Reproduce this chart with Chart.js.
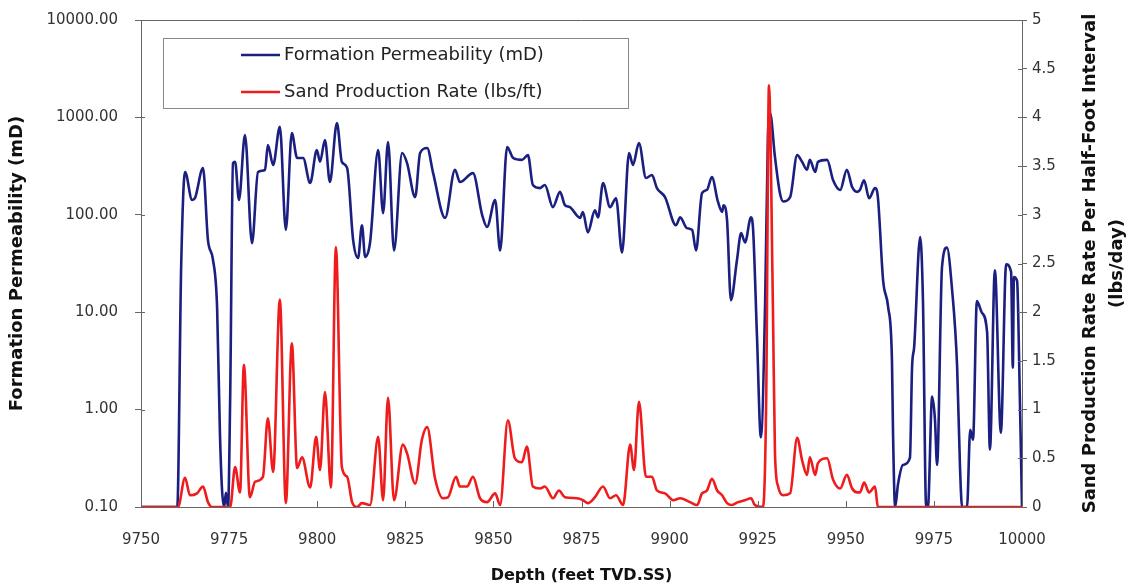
<!DOCTYPE html>
<html>
<head>
<meta charset="utf-8">
<script src="https://cdn.jsdelivr.net/npm/chart.js@4.4.1/dist/chart.umd.min.js"></script>
<style>
html, body { margin: 0; padding: 0; background: #fff; }
#wrap { position: relative; width: 1129px; height: 587px; }
</style>
</head>
<body>
<div id="wrap"><canvas id="grafic"></canvas></div>
<script>
const permDepth = [9750, 9760.3, 9761.4, 9762.5, 9764.5, 9765.3, 9767.6, 9769.0, 9770.4, 9771.6,
  9772.4, 9773.0, 9773.6, 9774.1, 9774.7, 9775.3, 9776.1, 9776.7, 9777.8, 9779.5,
  9781.5, 9783.2, 9785.2, 9786.0, 9787.5, 9789.4, 9791.1, 9792.8, 9794.3, 9796.0,
  9798.0, 9799.9, 9800.8, 9802.2, 9803.6, 9805.6, 9807.0, 9808.5, 9810.2, 9811.6,
  9812.7, 9813.6, 9815.0, 9817.3, 9818.7, 9820.1, 9821.8, 9824.1, 9825.5, 9827.8,
  9829.2, 9831.2, 9832.9, 9836.3, 9839.1, 9840.5, 9844.2, 9846.8, 9848.2, 9850.5,
  9851.9, 9853.9, 9855.6, 9858.1, 9859.8, 9861.2, 9863.2, 9864.6, 9866.9, 9868.9,
  9870.3, 9871.7, 9874.6, 9875.4, 9876.8, 9878.8, 9879.7, 9881.1, 9883.1, 9884.8,
  9886.5, 9888.5, 9889.6, 9891.3, 9893.3, 9895.0, 9896.4, 9898.7, 9901.8, 9903.0,
  9904.9, 9906.4, 9907.5, 9909.2, 9910.6, 9912.0, 9913.7, 9914.9, 9915.3, 9916.3,
  9917.4, 9919.1, 9920.3, 9921.4, 9923.1, 9923.7, 9924.8, 9925.9, 9927.1, 9927.9,
  9928.5, 9929.9, 9931.3, 9932.2, 9934.2, 9936.2, 9937.6, 9939.0, 9939.8, 9941.3,
  9942.1, 9944.7, 9946.4, 9948.4, 9950.3, 9951.8, 9953.2, 9954.0, 9955.2, 9956.6,
  9958.3, 9959.1, 9960.6, 9962.0, 9963.1, 9963.4, 9964.0, 9964.8, 9966.2, 9968.2,
  9968.8, 9969.4, 9971.1, 9971.9, 9972.8, 9973.3, 9974.5, 9975.3, 9975.9, 9977.3,
  9978.7, 9980.1, 9981.6, 9982.4, 9983.0, 9984.4, 9985.3, 9986.1, 9987.2, 9988.6,
  9990.1, 9990.9, 9992.3, 9994.0, 9995.5, 9996.9, 9997.4, 9997.7, 9998.6, 9999.4, 10000];
const permValue = [0.1, 0.1, 30, 275, 142, 148, 302, 55, 35, 11,
  0.57, 0.15, 0.1, 0.14, 0.1, 1.3, 340, 350, 142, 660,
  51, 275, 290, 520, 325, 800, 70, 690, 383, 383,
  212, 463, 350, 586, 217, 876, 350, 302, 55, 36,
  78, 37, 52, 463, 104, 560, 43, 431, 340, 152,
  431, 485, 268, 93, 290, 217, 268, 100, 75, 142,
  43, 497, 383, 366, 410, 202, 188, 202, 120, 172,
  126, 120, 93, 107, 66, 111, 94, 212, 120, 148,
  41, 431, 325, 546, 239, 256, 188, 152, 78, 94,
  73, 70, 43, 167, 180, 244, 137, 107, 125, 88,
  13.3, 34, 65, 52, 94, 70, 5.6, 0.52, 12, 630,
  1110, 392, 167, 137, 152, 410, 350, 290, 366, 275,
  350, 366, 226, 180, 290, 193, 172, 180, 226, 148,
  188, 152, 21, 11.4, 3.2, 0.58, 0.1, 0.17, 0.27, 0.32,
  2.7, 4.4, 59, 13, 0.1, 0.1, 1.36, 0.79, 0.27, 29,
  46, 18, 2.7, 0.26, 0.1, 0.1, 0.62, 0.49, 13, 9.9,
  6.2, 0.39, 27, 0.58, 31, 26, 2.7, 23, 21, 1.27, 0.1];

// sand production rate per half-foot interval (lbs/day)
const sandDepth = [9750, 9760.5, 9762.5, 9763.9, 9765.9, 9767.6, 9769.0, 9770.1, 9775.3, 9776.7,
  9778.1, 9779.2, 9780.9, 9782.4, 9784.6, 9786.0, 9787.5, 9789.4, 9791.1, 9792.8,
  9794.3, 9795.7, 9798.0, 9799.7, 9800.8, 9802.2, 9803.9, 9805.3, 9807.0, 9808.5,
  9809.9, 9811.3, 9812.7, 9815.0, 9817.3, 9818.7, 9820.1, 9821.8, 9824.3, 9825.5,
  9827.8, 9829.7, 9831.2, 9833.4, 9835.7, 9837.1, 9839.4, 9840.5, 9842.5, 9844.2,
  9846.2, 9848.2, 9850.5, 9851.9, 9854.1, 9856.1, 9858.1, 9859.5, 9861.2, 9863.2,
  9864.6, 9866.9, 9868.6, 9870.3, 9873.7, 9875.4, 9876.8, 9878.8, 9881.1, 9883.1,
  9884.8, 9886.8, 9888.8, 9889.9, 9891.3, 9893.3, 9895.0, 9896.4, 9898.7, 9901.0,
  9903.0, 9905.8, 9907.8, 9909.2, 9910.6, 9912.0, 9913.5, 9914.9, 9916.3, 9917.7,
  9919.4, 9921.4, 9923.1, 9924.2, 9926.5, 9927.4, 9928.2, 9929.3, 9929.9, 9930.8,
  9932.2, 9934.2, 9936.2, 9937.6, 9939.0, 9939.8, 9941.3, 9942.1, 9944.7, 9946.4,
  9948.4, 9950.3, 9951.8, 9953.2, 9954.0, 9955.2, 9956.6, 9958.3, 9959.1, 10000];
const sandValue = [0, 0, 0.30, 0.12, 0.14, 0.21, 0.05, 0, 0, 0.41,
  0.15, 1.46, 0.10, 0.26, 0.31, 0.91, 0.36, 2.13, 0.04, 1.68,
  0.40, 0.51, 0.20, 0.72, 0.38, 1.18, 0.20, 2.67, 0.41, 0.31,
  0.05, 0, 0.04, 0.02, 0.72, 0.07, 1.12, 0.07, 0.64, 0.55,
  0.24, 0.69, 0.82, 0.30, 0.09, 0.10, 0.31, 0.21, 0.21, 0.31,
  0.09, 0.05, 0.14, 0.02, 0.89, 0.50, 0.46, 0.62, 0.21, 0.19,
  0.21, 0.09, 0.17, 0.10, 0.09, 0.07, 0.04, 0.10, 0.21, 0.09,
  0.12, 0.02, 0.64, 0.38, 1.08, 0.31, 0.31, 0.17, 0.14, 0.07,
  0.09, 0.05, 0.02, 0.14, 0.17, 0.29, 0.17, 0.12, 0.04, 0.02,
  0.05, 0.07, 0.09, 0.02, 0, 1.07, 4.33, 2.10, 0.55, 0.21,
  0.12, 0.14, 0.71, 0.48, 0.33, 0.51, 0.33, 0.45, 0.50, 0.28,
  0.19, 0.33, 0.19, 0.15, 0.15, 0.25, 0.15, 0.21, 0, 0];

const depthTicks = [9750, 9775, 9800, 9825, 9850, 9875, 9900, 9925, 9950, 9975, 10000];
const permTicks = [0.1, 1, 10, 100, 1000, 10000];
const sandTicks = [0, 0.5, 1, 1.5, 2, 2.5, 3, 3.5, 4, 4.5, 5];

const seriesNames = ['Formation Permeability (mD)', 'Sand Production Rate (lbs/ft)'];
const rightTitle = ['Sand Production Rate Rate Per Half-Foot Interval', '(lbs/day)'];

const FONT = '"DejaVu Sans", Verdana, sans-serif';
const BLUE = '#1a1f80';
const RED = '#ee1c1c';

// ticks that cross the axis line, plus the top border
const marcPlugin = {
  id: 'marc',
  afterDraw(chart) {
    const { ctx, chartArea: a, scales } = chart;
    ctx.save();
    ctx.strokeStyle = '#666';
    ctx.lineWidth = 1;
    ctx.beginPath();
    ctx.moveTo(a.left, a.top + 0.5);
    ctx.lineTo(a.right, a.top + 0.5);
    scales.x.ticks.forEach(t => {
      const px = Math.round(scales.x.getPixelForValue(t.value)) + 0.5;
      ctx.moveTo(px, a.bottom);
      ctx.lineTo(px, a.bottom - 6);
    });
    scales.y.ticks.forEach(t => {
      const py = Math.round(scales.y.getPixelForValue(t.value)) + 0.5;
      ctx.moveTo(a.left, py);
      ctx.lineTo(a.left + 4, py);
    });
    scales.y2.ticks.forEach(t => {
      const py = Math.round(scales.y2.getPixelForValue(t.value)) + 0.5;
      ctx.moveTo(a.right, py);
      ctx.lineTo(a.right - 4, py);
    });
    ctx.stroke();
    ctx.restore();
  }
};

// legend box inside the plot, and the right axis title read bottom-up
const llegendaPlugin = {
  id: 'llegenda',
  afterDraw(chart) {
    const { ctx, chartArea: a } = chart;
    const colors = [BLUE, RED];
    const bx = a.left + 22, by = a.top + 18, bw = 465, bh = 70;
    ctx.save();
    ctx.fillStyle = '#fff';
    ctx.fillRect(bx, by, bw, bh);
    ctx.strokeStyle = '#888';
    ctx.lineWidth = 1;
    ctx.strokeRect(bx + 0.5, by + 0.5, bw, bh);
    ctx.font = '18px ' + FONT;
    ctx.textBaseline = 'middle';
    seriesNames.forEach((name, i) => {
      const ly = by + 17 + i * 37;
      ctx.strokeStyle = colors[i];
      ctx.lineWidth = 2.5;
      ctx.beginPath();
      ctx.moveTo(bx + 78, ly);
      ctx.lineTo(bx + 117, ly);
      ctx.stroke();
      ctx.fillStyle = '#222';
      ctx.fillText(name, bx + 121, ly);
    });

    ctx.font = 'bold 18px ' + FONT;
    ctx.fillStyle = '#111';
    ctx.textAlign = 'center';
    ctx.textBaseline = 'middle';
    const cy = (a.top + a.bottom) / 2;
    rightTitle.forEach((txt, i) => {
      ctx.save();
      ctx.translate(a.right + 68 + i * 27, cy);
      ctx.rotate(-Math.PI / 2);
      ctx.fillText(txt, 0, 0);
      ctx.restore();
    });
    ctx.restore();
  }
};

// fixed box sizes so the plot area sits where the original one does
const fixVertical = w => s => {
  s.width = w;
  s.paddingTop = 0;
  s.paddingBottom = 0;
};

const ctx = document.getElementById('grafic').getContext('2d');

new Chart(ctx, {
  type: 'line',
  data: {
    datasets: [{
      label: seriesNames[0],
      data: permDepth.map((d, i) => ({ x: d, y: permValue[i] })),
      yAxisID: 'y',
      borderColor: BLUE,
      borderWidth: 2.6,
      pointRadius: 0,
      cubicInterpolationMode: 'monotone',
      order: 1
    }, {
      label: seriesNames[1],
      data: sandDepth.map((d, i) => ({ x: d, y: sandValue[i] })),
      yAxisID: 'y2',
      borderColor: RED,
      borderWidth: 2.6,
      pointRadius: 0,
      cubicInterpolationMode: 'monotone',
      order: 0
    }]
  },
  options: {
    responsive: true,
    maintainAspectRatio: false,
    animation: false,
    layout: { padding: { top: 20, left: 0, right: 0, bottom: 0 } },
    plugins: { legend: { display: false }, tooltip: { enabled: false } },
    scales: {
      x: {
        type: 'linear',
        min: 9750,
        max: 10000,
        afterBuildTicks: s => { s.ticks = depthTicks.map(v => ({ value: v })); },
        afterFit: s => { s.height = 80; s.paddingLeft = 0; s.paddingRight = 0; },
        border: { color: '#666' },
        grid: { drawOnChartArea: false, drawTicks: false },
        ticks: {
          padding: 24, color: '#333', maxRotation: 0, autoSkip: false,
          font: { family: FONT, size: 15 },
          callback: v => String(v)
        },
        title: {
          display: true, text: 'Depth (feet TVD.SS)', color: '#111',
          font: { family: FONT, size: 16, weight: 'bold' },
          padding: { top: 0, bottom: 2 }
        }
      },
      y: {
        type: 'logarithmic',
        position: 'left',
        min: 0.1,
        max: 10000,
        afterBuildTicks: s => { s.ticks = permTicks.map(v => ({ value: v })); },
        afterFit: fixVertical(141),
        border: { color: '#666' },
        grid: { drawOnChartArea: false, tickLength: 6, color: '#666' },
        ticks: {
          padding: 17, color: '#333', autoSkip: false,
          font: { family: FONT, size: 15 },
          callback: v => Number(v).toFixed(2)
        },
        title: {
          display: true, text: 'Formation Permeability (mD)', color: '#111',
          font: { family: FONT, size: 18, weight: 'bold' },
          padding: { top: 7, bottom: 0 }
        }
      },
      y2: {
        type: 'linear',
        position: 'right',
        min: 0,
        max: 5,
        afterBuildTicks: s => { s.ticks = sandTicks.map(v => ({ value: v })); },
        afterFit: fixVertical(107),
        border: { color: '#666' },
        grid: { drawOnChartArea: false, tickLength: 5, color: '#666' },
        ticks: {
          padding: 5, color: '#333', autoSkip: false,
          font: { family: FONT, size: 15 },
          callback: v => String(v)
        }
      }
    }
  },
  plugins: [marcPlugin, llegendaPlugin]
});
</script>
</body>
</html>
